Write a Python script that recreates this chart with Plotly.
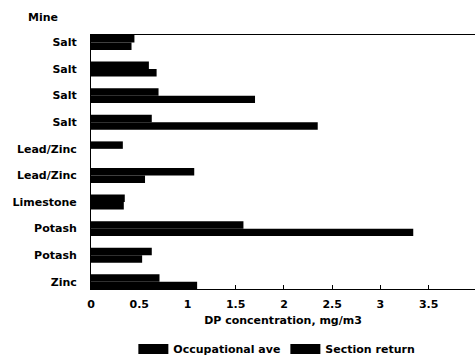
import plotly.graph_objects as go

mines = ["Salt", "Salt", "Salt", "Salt", "Lead/Zinc", "Lead/Zinc", "Limestone", "Potash", "Potash", "Zinc"]
occupational_ave = [0.45, 0.60, 0.70, 0.63, 0.33, 1.07, 0.35, 1.58, 0.63, 0.71]
section_return = [0.42, 0.68, 1.70, 2.35, None, 0.56, 0.34, 3.34, 0.53, 1.10]
x_ticks = [0, 0.5, 1, 1.5, 2, 2.5, 3, 3.5, 4]

pos = list(range(len(mines)))
font = dict(family="DejaVu Sans, sans-serif", size=11, color="black", weight="bold")

fig = go.Figure()
fig.add_trace(go.Bar(y=pos, x=occupational_ave, orientation="h", name="Occupational ave",
                     marker=dict(color="black", line=dict(width=0)), showlegend=False))
fig.add_trace(go.Bar(y=pos, x=section_return, orientation="h", name="Section return",
                     marker=dict(color="black", line=dict(width=0)), showlegend=False))
# legend-only entries drawn as wide black swatches
for name in ["Occupational ave", "Section return"]:
    fig.add_trace(go.Scatter(x=[None], y=[None], mode="lines", name=name,
                             line=dict(color="black", width=12)))

fig.update_layout(
    width=475, height=356,
    margin=dict(l=91, r=0, t=35, b=67, autoexpand=False),
    paper_bgcolor="white", plot_bgcolor="white",
    barmode="group", bargap=0.44, bargroupgap=0,
    font=font,
    showlegend=True,
    legend=dict(orientation="h", x=0.484, xanchor="center", y=-0.179, yanchor="top",
                font=font, tracegroupgap=0),
    xaxis=dict(range=[0, 3.98], tickvals=x_ticks, ticktext=[str(v) for v in x_ticks],
               showgrid=False, zeroline=False, showline=True, linecolor="black", linewidth=1,
               mirror=True, ticks="inside", ticklen=4, tickcolor="black",
               ticklabelstandoff=5,
               title=dict(text="DP concentration, mg/m3", font=font, standoff=6)),
    yaxis=dict(range=[9.27, -0.28], tickvals=pos, ticktext=mines, showgrid=False,
               zeroline=False, showline=True, linecolor="black", linewidth=1, ticks="",
               ticklabelstandoff=11),
    annotations=[dict(text="Mine", x=(26 - 91) / 384, xref="paper", xanchor="left",
                      y=1 + 17 / 254, yref="paper", yanchor="middle",
                      showarrow=False, font=font)],
)
fig.write_html("out.html")
